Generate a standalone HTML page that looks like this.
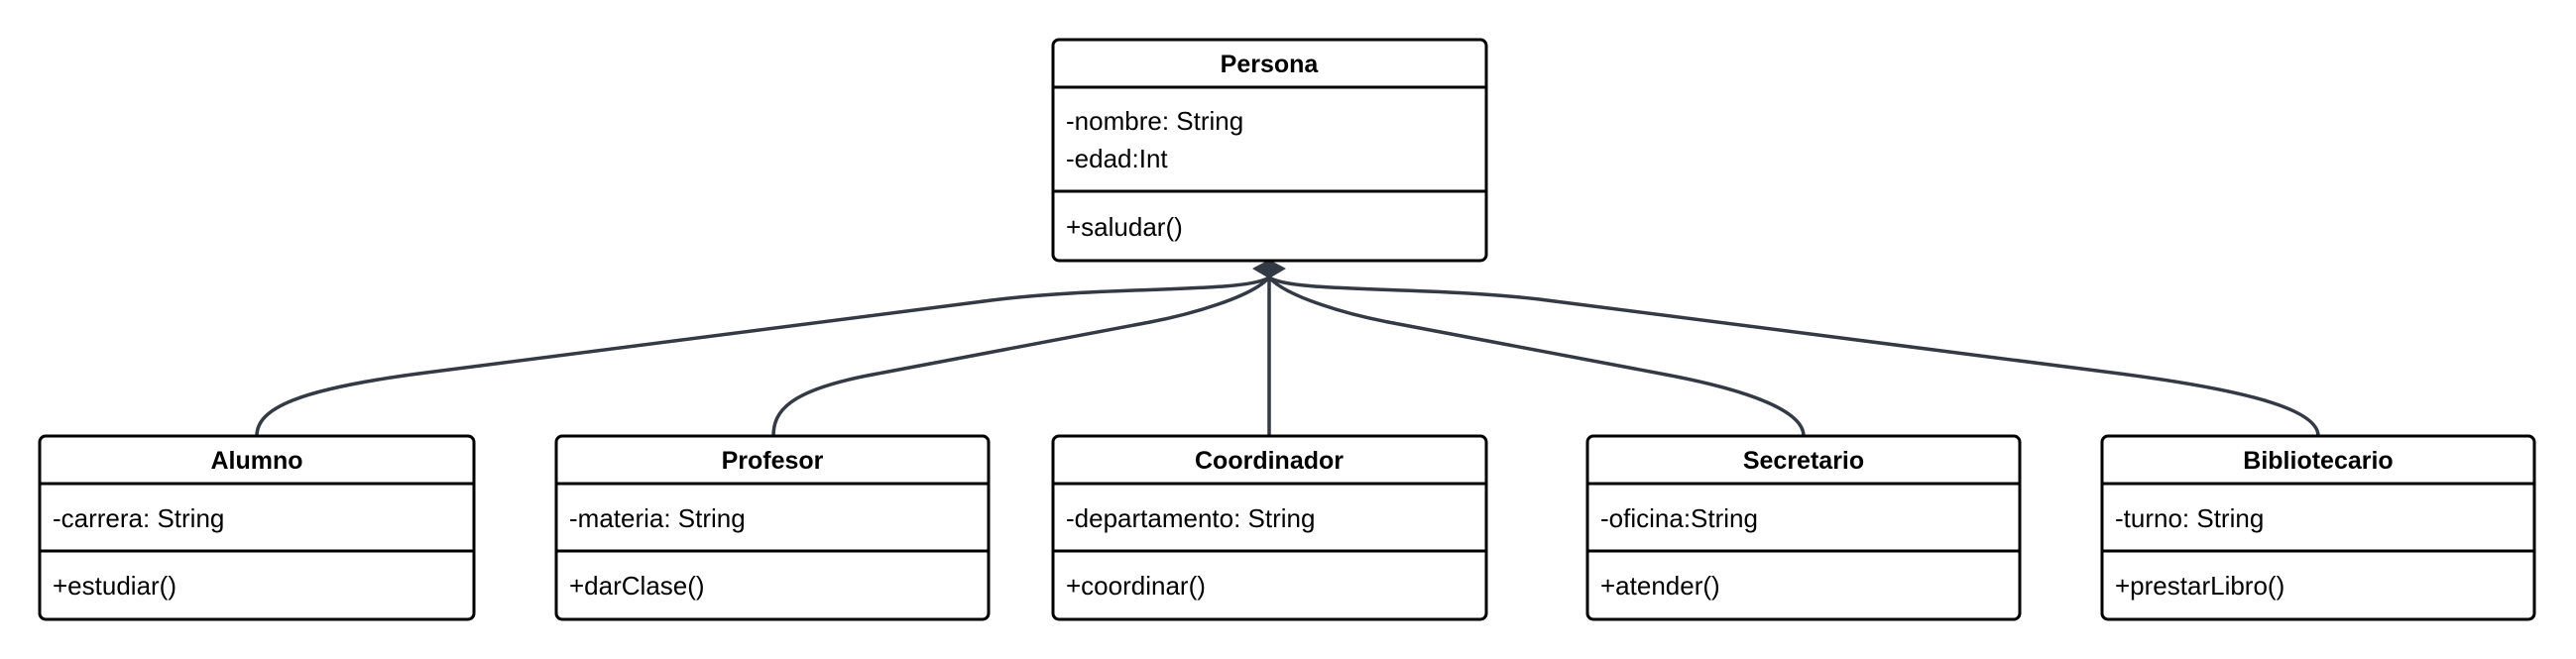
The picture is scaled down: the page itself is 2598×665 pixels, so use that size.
<!DOCTYPE html>
<html><head><meta charset="utf-8"><style>
html,body{margin:0;padding:0;background:#fff;}
svg{display:block;}
text{font-family:"Liberation Sans",sans-serif;fill:#000;}
.t{font-weight:bold;font-size:25px;text-anchor:middle;}
.a{font-size:26px;}
</style></head><body>
<svg width="2598" height="665" viewBox="0 0 2598 665" xmlns="http://www.w3.org/2000/svg">
<g fill="none" stroke="#333a44" stroke-width="3.5">
<path d="M1280,280 C1255,296 1120,288 1000,303 L430,376 C300,392.6 259,412 259,440"/>
<path d="M1280,280 C1262,300 1200,317.4 1160,325 L880,378 C795,394 780,415 780,440"/>
<path d="M1280,280 L1280,440"/>
<path d="M1280,280 C1298,300 1360,317.4 1400,325 L1680,378 C1765,394 1819,415 1819,440"/>
<path d="M1280,280 C1305,296 1440,288 1560,303 L2130,376 C2260,392.6 2338,412 2338,440"/>
</g>
<polygon points="1280,262 1297,271 1280,281 1263,271" fill="#333a44"/>
<g fill="#fff" stroke="#000" stroke-width="3">
<rect x="1062" y="40" width="437" height="223" rx="6"/>
<line x1="1062" y1="88" x2="1499" y2="88"/>
<line x1="1062" y1="193" x2="1499" y2="193"/>
</g>
<text class="t" x="1280" y="73">Persona</text>
<text class="a" x="1075" y="131">-nombre: String</text>
<text class="a" x="1075" y="169">-edad:Int</text>
<text class="a" x="1075" y="238">+saludar()</text>

<g fill="#fff" stroke="#000" stroke-width="3">
<rect x="40" y="440" width="438" height="185" rx="6"/>
<line x1="40" y1="488" x2="478" y2="488"/><line x1="40" y1="556" x2="478" y2="556"/>
<rect x="561" y="440" width="436" height="185" rx="6"/>
<line x1="561" y1="488" x2="997" y2="488"/><line x1="561" y1="556" x2="997" y2="556"/>
<rect x="1062" y="440" width="437" height="185" rx="6"/>
<line x1="1062" y1="488" x2="1499" y2="488"/><line x1="1062" y1="556" x2="1499" y2="556"/>
<rect x="1601" y="440" width="436" height="185" rx="6"/>
<line x1="1601" y1="488" x2="2037" y2="488"/><line x1="1601" y1="556" x2="2037" y2="556"/>
<rect x="2120" y="440" width="436" height="185" rx="6"/>
<line x1="2120" y1="488" x2="2556" y2="488"/><line x1="2120" y1="556" x2="2556" y2="556"/>
</g>
<text class="t" x="259" y="473">Alumno</text>
<text class="a" x="53" y="532">-carrera: String</text>
<text class="a" x="53" y="600">+estudiar()</text>
<text class="t" x="779" y="473">Profesor</text>
<text class="a" x="574" y="532">-materia: String</text>
<text class="a" x="574" y="600">+darClase()</text>
<text class="t" x="1280" y="473">Coordinador</text>
<text class="a" x="1075" y="532">-departamento: String</text>
<text class="a" x="1075" y="600">+coordinar()</text>
<text class="t" x="1819" y="473">Secretario</text>
<text class="a" x="1614" y="532">-oficina:String</text>
<text class="a" x="1614" y="600">+atender()</text>
<text class="t" x="2338" y="473">Bibliotecario</text>
<text class="a" x="2133" y="532">-turno: String</text>
<text class="a" x="2133" y="600">+prestarLibro()</text>
</svg>
</body></html>
